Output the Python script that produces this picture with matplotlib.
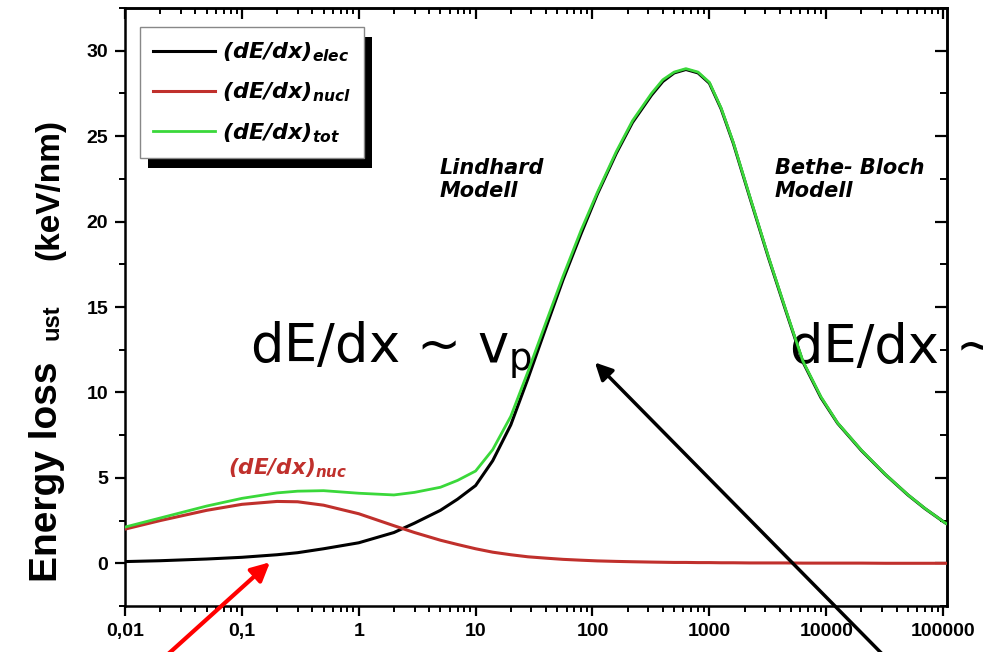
import matplotlib
matplotlib.use("Agg")
import matplotlib.pyplot as plt
from matplotlib.ticker import MultipleLocator, LogLocator, NullFormatter
from matplotlib.patches import Rectangle

# Energy (keV) grid and stopping curves
energy = [0.01, 0.02, 0.05, 0.1, 0.2, 0.3, 0.5, 1, 2, 3, 5, 7, 10, 14, 20, 28,
          40, 56, 80, 110, 160, 220, 320, 400, 500, 630, 800, 1000, 1260, 1600,
          2200, 3200, 4500, 6300, 9000, 12500, 20000, 32000, 50000, 70000,
          100000, 108000]
elec = [0.10, 0.15, 0.25, 0.35, 0.50, 0.62, 0.85, 1.20, 1.80, 2.35, 3.10, 3.75,
        4.55, 6.00, 8.10, 10.8, 13.8, 16.6, 19.3, 21.6, 24.0, 25.8, 27.4, 28.2,
        28.7, 28.9, 28.7, 28.1, 26.6, 24.6, 21.5, 17.9, 14.8, 11.8, 9.7, 8.2,
        6.6, 5.2, 4.0, 3.2, 2.45, 2.3]
nucl = [2.00, 2.50, 3.10, 3.45, 3.62, 3.60, 3.40, 2.90, 2.20, 1.80, 1.35, 1.10,
        0.85, 0.65, 0.50, 0.38, 0.30, 0.23, 0.18, 0.14, 0.11, 0.09, 0.07, 0.06,
        0.05, 0.05, 0.04, 0.04, 0.03, 0.03, 0.02, 0.02, 0.02, 0.01, 0.01, 0.01,
        0.01, 0.0, 0.0, 0.0, 0.0, 0.0]
tot = [2.12, 2.65, 3.35, 3.80, 4.12, 4.22, 4.25, 4.10, 4.00, 4.15, 4.45, 4.85,
       5.40, 6.65, 8.60, 11.2, 14.1, 16.8, 19.5, 21.7, 24.1, 25.9, 27.5, 28.3,
       28.75, 28.95, 28.75, 28.15, 26.65, 24.65, 21.55, 17.95, 14.85, 11.85,
       9.75, 8.22, 6.62, 5.21, 4.01, 3.21, 2.45, 2.3]

xticks = [0.01, 0.1, 1, 10, 100, 1000, 10000, 100000]
xtick_labels = ['0,01', '0,1', '1', '10', '100', '1000', '10000', '100000']
yticks = [0, 5, 10, 15, 20, 25, 30]

plt.rcParams['mathtext.fontset'] = 'custom'
plt.rcParams['mathtext.rm'] = 'DejaVu Sans:italic:bold'
plt.rcParams['mathtext.it'] = 'DejaVu Sans:italic:bold'
plt.rcParams['mathtext.bf'] = 'DejaVu Sans:italic:bold'
plt.rcParams['mathtext.sf'] = 'DejaVu Sans'

RED = '#c0302c'
GREEN = '#3ad83a'

fig = plt.figure(figsize=(9.83, 6.52), dpi=100)
ax = fig.add_axes([125 / 983, 46 / 652, 822 / 983, 598 / 652])

ax.plot(energy, elec, color='black', lw=2.2, label=r'$(dE/dx)_{elec}$', zorder=3)
ax.plot(energy, nucl, color=RED, lw=2.2, label=r'$(dE/dx)_{nucl}$', zorder=3)
ax.plot(energy, tot, color=GREEN, lw=2.0, label=r'$(dE/dx)_{tot}$', zorder=4)

ax.set_xscale('log')
ax.set_xlim(0.01, 108000)
ax.set_ylim(-2.5, 32.5)

tick_font = dict(family='Liberation Sans', weight='bold', size=14)
ax.set_xticks(xticks, xtick_labels)
ax.xaxis.set_minor_locator(LogLocator(base=10, subs=range(2, 10)))
ax.xaxis.set_minor_formatter(NullFormatter())
ax.set_yticks(yticks)
ax.yaxis.set_minor_locator(MultipleLocator(2.5))
for lab in ax.get_xticklabels() + ax.get_yticklabels():
    lab.set_fontproperties(tick_font)

ax.tick_params(which='major', direction='out', length=7, width=1.6, pad=5)
ax.tick_params(which='minor', direction='out', length=4, width=1.4)
for sp in ax.spines.values():
    sp.set_linewidth(1.8)

# inward ticks on top and right
top = ax.secondary_xaxis('top')
top.set_xticks(xticks)
top.xaxis.set_minor_locator(LogLocator(base=10, subs=range(2, 10)))
top.tick_params(which='major', direction='in', length=8, width=1.6, labeltop=False)
top.tick_params(which='minor', direction='in', length=4, width=1.4)
right = ax.secondary_yaxis('right')
right.set_yticks(yticks)
right.yaxis.set_minor_locator(MultipleLocator(2.5))
right.tick_params(which='major', direction='in', length=9, width=1.6, labelright=False)
right.tick_params(which='minor', direction='in', length=5, width=1.4)
for sec in (top, right):
    for sp in sec.spines.values():
        sp.set_linewidth(1.8)

# legend with a hard black drop shadow
leg = ax.legend(loc='upper left', bbox_to_anchor=(0.018, 0.968), fontsize=16,
                handlelength=2.8, handletextpad=0.3, labelspacing=0.75,
                borderpad=0.6, borderaxespad=0, fancybox=False, framealpha=1,
                edgecolor='#888888')
leg.get_frame().set_linewidth(1.0)
leg.set_zorder(6)
fig.canvas.draw()
bb = leg.get_window_extent().transformed(ax.transAxes.inverted())
dx, dy = 8 / 822, 10 / 598
ax.add_patch(Rectangle((bb.x0 + dx, bb.y0 - dy), bb.width, bb.height,
                       transform=ax.transAxes, facecolor='black',
                       edgecolor='none', clip_on=False, zorder=5.5))

# annotations
ax.text(4.96, 23.7, 'Lindhard\nModell', fontsize=15, fontweight='bold',
        fontstyle='italic', va='top', ha='left', linespacing=1.15)
ax.text(3630, 23.7, 'Bethe- Bloch\nModell', fontsize=15, fontweight='bold',
        fontstyle='italic', va='top', ha='left', linespacing=1.15)
ax.text(0.076, 5.2, r'$(dE/dx)_{nuc}$', fontsize=15.5, color=RED,
        va='baseline', ha='left')
ax.text(0.117, 11.7, r'dE/dx ~ $\mathsf{v}_\mathsf{p}$', fontsize=38,
        va='baseline', ha='left', family='DejaVu Sans')
ax.text(4900, 11.7, 'dE/dx ~', fontsize=38, va='baseline', ha='left',
        family='DejaVu Sans', clip_on=False)

ax.annotate('', xy=(0.174, 0.06), xycoords='data',
            xytext=(0.166, -0.01), textcoords='figure fraction',
            arrowprops=dict(arrowstyle='-|>', color='red', lw=3,
                            mutation_scale=28, shrinkA=0, shrinkB=0),
            annotation_clip=False)
ax.annotate('', xy=(105, 11.75), xycoords='data',
            xytext=(0.902, -0.01), textcoords='figure fraction',
            arrowprops=dict(arrowstyle='-|>', color='black', lw=2.5,
                            mutation_scale=26, shrinkA=0, shrinkB=0),
            annotation_clip=False)

# y label built from three pieces, like the original slide
ylab = dict(rotation=90, ha='center', va='center', family='Liberation Sans',
            fontweight='bold')
fig.text(47 / 983, 1 - 472 / 652, 'Energy loss', fontsize=28, **ylab)
fig.text(52 / 983, 1 - 322 / 652, 'ust', fontsize=17, **ylab)
fig.text(50 / 983, 1 - 190 / 652, '(keV/nm)', fontsize=24, **ylab)

fig.savefig('out.png', dpi=100)
